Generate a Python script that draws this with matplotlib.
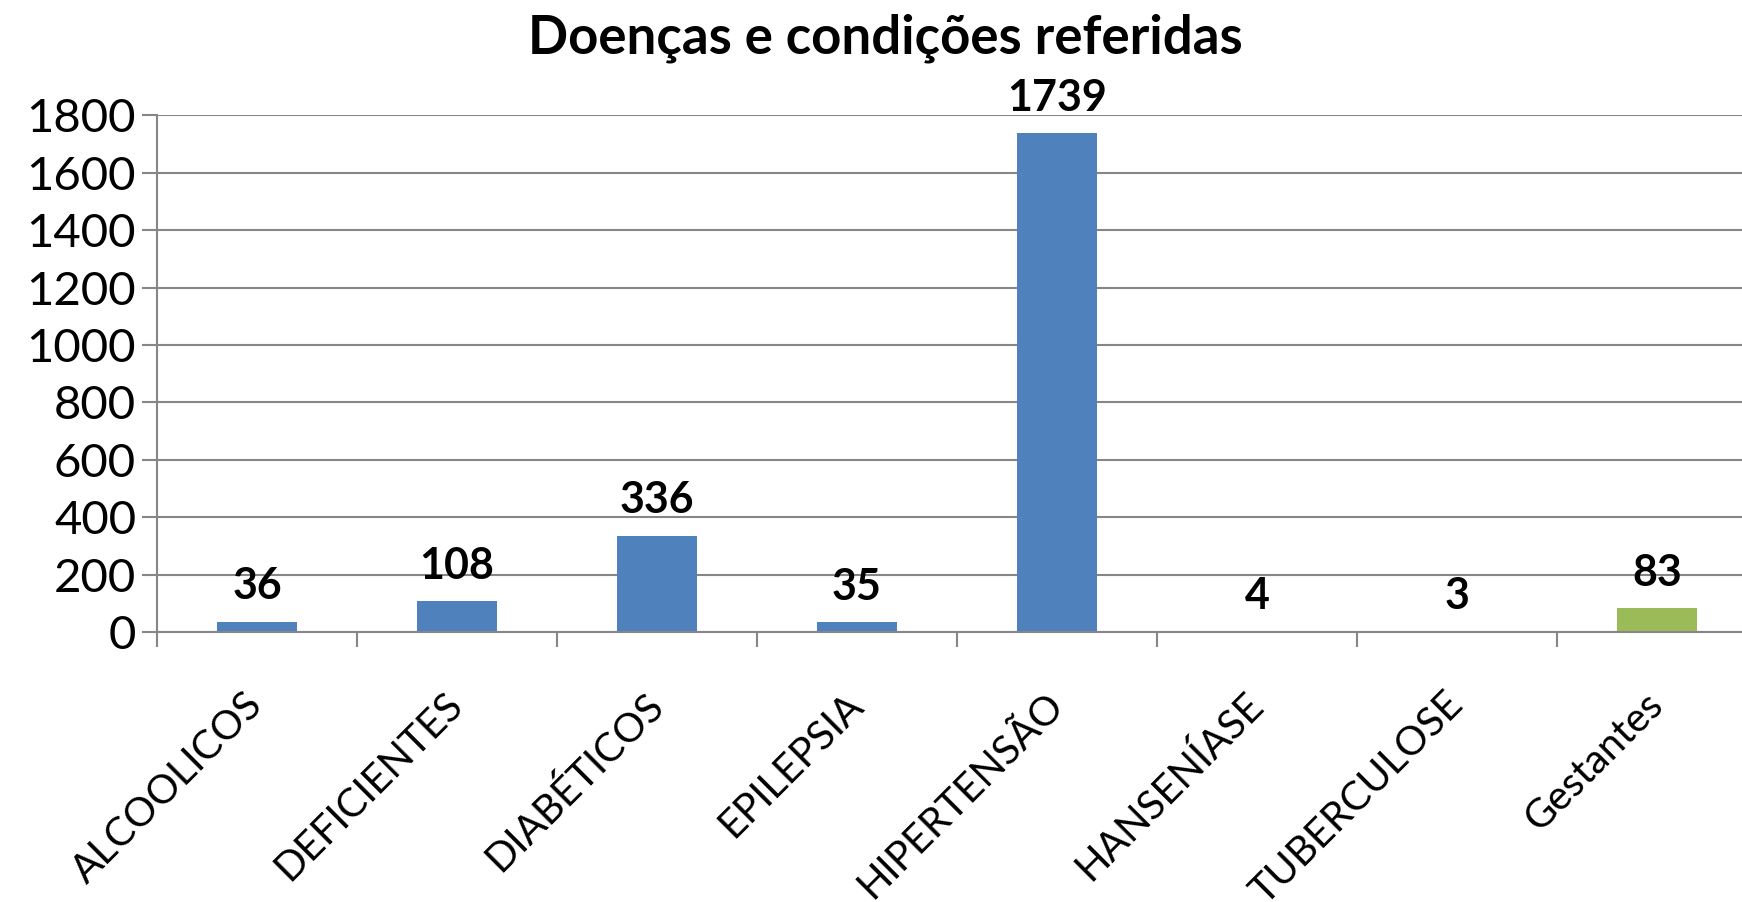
import matplotlib
matplotlib.use("Agg")
import matplotlib.pyplot as plt

categorias = ["ALCOOLICOS", "DEFICIENTES", "DIABÉTICOS", "EPILEPSIA",
              "HIPERTENSÃO", "HANSENÍASE", "TUBERCULOSE", "Gestantes"]
valores = [36, 108, 336, 35, 1739, 4, 3, 83]
cores = ["#4F81BD"] * 7 + ["#9BBB59"]
yticks = [0, 200, 400, 600, 800, 1000, 1200, 1400, 1600, 1800]

plt.rcParams['font.family'] = ['Lato', 'DejaVu Sans']

fig = plt.figure(figsize=(17.42, 9.02), dpi=100)
ax = fig.add_axes([0.0901, 0.2993, 0.9185, 0.5727])

x = list(range(len(categorias)))
bars = ax.bar(x, valores, width=0.4, color=cores, zorder=3)

for xi, v in zip(x, valores):
    ax.annotate(str(v), (xi, v), xytext=(0, 11), textcoords="offset points",
                ha="center", va="bottom", fontsize=31, fontweight="bold")

ax.set_xlim(-0.5, len(categorias) - 0.5)
ax.set_ylim(0, 1800)
ax.set_yticks(yticks)
ax.set_yticklabels([str(t) for t in yticks], fontsize=34)

# category boundaries as major ticks, labels at centres
ax.set_xticks([i - 0.5 for i in range(len(categorias) + 1)])
ax.set_xticklabels([])
ax.set_xticks(x, minor=True)
ax.set_xticklabels(categorias, minor=True, fontsize=29, rotation=45,
                   ha="right", va="center", rotation_mode="anchor")
ax.tick_params(axis="x", which="minor", length=0, pad=48)
ax.tick_params(axis="x", which="major", length=11, width=1.5, color="#868686")
ax.tick_params(axis="y", length=11, width=1.5, color="#868686", pad=4)

ax.yaxis.grid(True, color="#868686", linewidth=1.5, zorder=0)
ax.set_axisbelow(True)
for s in ["top", "right"]:
    ax.spines[s].set_visible(False)
for s in ["left", "bottom"]:
    ax.spines[s].set_color("#868686")
    ax.spines[s].set_linewidth(1.5)
ax.spines["bottom"].set_zorder(4)

fig.text(0.508, 0.958, "Doenças e condições referidas", ha="center", va="center",
         fontsize=38, fontweight="bold")

fig.savefig("out.png", dpi=100)
